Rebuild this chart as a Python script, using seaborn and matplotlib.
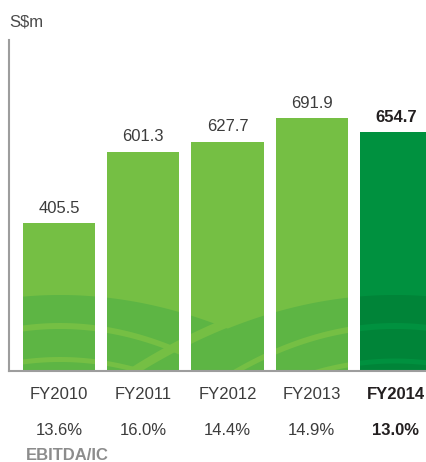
import numpy as np
import matplotlib
matplotlib.use("Agg")
import matplotlib.pyplot as plt
import matplotlib.transforms as mtransforms
from matplotlib.patches import Polygon
import seaborn as sns

# EBITDA (S$m) and EBITDA/IC per financial year
years = ["FY2010", "FY2011", "FY2012", "FY2013", "FY2014"]
ebitda = [405.5, 601.3, 627.7, 691.9, 654.7]
ebitda_ic = ["13.6%", "16.0%", "14.4%", "14.9%", "13.0%"]

LIGHT = "#75bf44"
LIGHT_SHADE = "#5db544"
DARK = "#00913f"
DARK_SHADE = "#008438"
TEXT = "#3c3c3c"
BOLD_TEXT = "#231f20"
AXIS = "#9d9d9d"

sns.set_theme(style="white")
plt.rcParams['font.family'] = ['Liberation Sans', 'DejaVu Sans']

W, H = 427, 462
fig = plt.figure(figsize=(W / 100, H / 100), dpi=100)
ax = fig.add_axes([9 / W, (H - 371) / H, (W - 9) / W, (371 - 40) / H])

colors = [LIGHT] * (len(years) - 1) + [DARK]
sns.barplot(x=years, y=ebitda, hue=years, palette=colors, legend=False,
            width=0.855, saturation=1, linewidth=0, edgecolor="none", ax=ax)

ax.set_xlim(-0.5935, 4.368)
ax.set_ylim(0, 907)
ax.set_xlabel("")
ax.set_ylabel("")
ax.set_yticks([])
sns.despine(ax=ax, top=True, right=True)
for side in ["left", "bottom"]:
    ax.spines[side].set_color(AXIS)
    ax.spines[side].set_linewidth(1.5)

# value labels on top of bars
last = len(years) - 1
for i, cont in enumerate(ax.containers):
    ax.bar_label(cont, fmt="%.1f", padding=5.4, fontsize=12,
                 color=BOLD_TEXT if i == last else TEXT,
                 fontweight="bold" if i == last else "normal")

ax.set_xticks(range(len(years)))
ax.set_xticklabels(years, fontsize=12)
ax.tick_params(axis="x", length=0, pad=11.5)
for i, lbl in enumerate(ax.get_xticklabels()):
    if i == last:
        lbl.set_fontweight("bold")
        lbl.set_color(BOLD_TEXT)
    else:
        lbl.set_color(TEXT)

# pixel transform (origin top-left) for decoration + footer text
px_tf = mtransforms.Affine2D().scale(1, -1).translate(0, H)
row_tf = mtransforms.blended_transform_factory(ax.transData, px_tf)

for i, txt in enumerate(ebitda_ic):
    ax.text(i, 435, txt, transform=row_tf, ha="center", va="baseline",
            fontsize=12, color=BOLD_TEXT if i == last else TEXT,
            fontweight="bold" if i == last else "normal", clip_on=False)

fig.text(9, 27, "S$m", transform=px_tf, fontsize=12, color="#4a4a4a",
         va="baseline", ha="left")
fig.text(26, 460.5, "EBITDA/IC", transform=px_tf, fontsize=12, color="#8c8c8c",
         fontweight="bold", va="baseline", ha="left")


# decorative curved field rows inside the bars (pixel space)
def left_curve(x, y0, k):
    return y0 + k * (x - 60) ** 2


def right_curve(x, y0, k):
    return y0 + k * (395 - x) ** 2


def shade(xs, top, color, bar):
    pts = np.column_stack([np.r_[xs, xs[::-1]], np.r_[top, np.full_like(xs, 380.0)]])
    p = Polygon(pts, closed=True, facecolor=color, edgecolor="none",
                transform=px_tf, zorder=1.5)
    ax.add_patch(p)
    p.set_clip_path(bar)


def band(xs, mid, width, color, bar):
    pts = np.column_stack([np.r_[xs, xs[::-1]],
                           np.r_[mid - width / 2, (mid + width / 2)[::-1]]])
    p = Polygon(pts, closed=True, facecolor=color, edgecolor="none",
                transform=px_tf, zorder=1.6)
    ax.add_patch(p)
    p.set_clip_path(bar)


bars = [c.patches[0] for c in ax.containers]
for i, bar in enumerate(bars):
    x0 = ax.transData.transform((bar.get_x(), 0))[0] - 2
    x1 = ax.transData.transform((bar.get_x() + bar.get_width(), 0))[0] + 2
    xs = np.linspace(x0, x1, 80)
    base = DARK if i == last else LIGHT
    sh = DARK_SHADE if i == last else LIGHT_SHADE
    if i <= 2:
        shade(xs, left_curve(xs, 295, 0.0012), sh, bar)
    if i >= 2:
        shade(xs, right_curve(xs, 295, 0.0012), sh, bar)
    if i <= 2:
        band(xs, right_curve(xs, 295, 0.0012) - 6, 10, base, bar)
    if i <= 1:
        band(xs, left_curve(xs, 326, 0.0018), 6, base, bar)
        band(xs, left_curve(xs, 359.5, 0.0018), 5, base, bar)
    else:
        band(xs, right_curve(xs, 326, 0.0018), 6, base, bar)
        band(xs, right_curve(xs, 361, 0.0018), 5, base, bar)

fig.savefig("out.png", dpi=100)
